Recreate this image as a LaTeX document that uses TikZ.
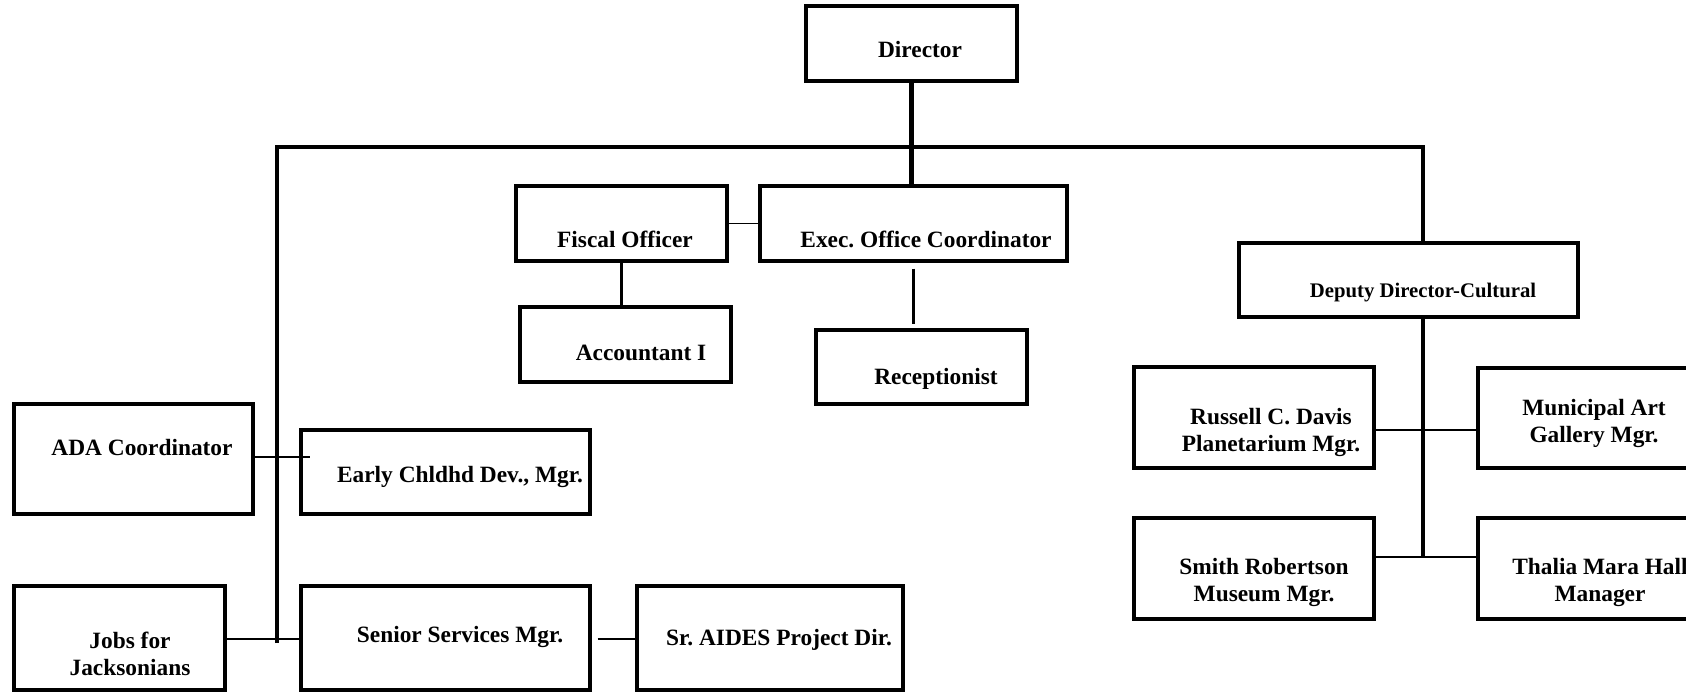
\documentclass[tikz,border=0pt]{standalone}
\usepackage{fontspec}
\setmainfont{Liberation Serif}
\usetikzlibrary{fit}

\begin{document}
\begin{tikzpicture}[x=0.02cm,y=-0.02cm,
	box/.style={shape=rectangle,draw,line width=1.8pt,inner sep=0pt},
	txt/.style={inner sep=0pt,align=center,font=\fontsize{13.3pt}{15pt}\selectfont\bfseries\frenchspacing},
	one/.style={text height=9pt,text depth=0pt},
	two/.style={text height=24pt,text depth=0pt},
	link/.style={line width=1.9pt},
	thin/.style={line width=1pt}]
	\useasboundingbox (0,0) rectangle (1686,691);

	\node (director) [box,fit={(806,6) (1017,81)}] {};
	\node (fiscal) [box,fit={(516,186) (727,261)}] {};
	\node (exec) [box,fit={(760,186) (1067,261)}] {};
	\node (accountant) [box,fit={(520,307) (731,382)}] {};
	\node (receptionist) [box,fit={(816,330) (1027,404)}] {};
	\node (deputy) [box,fit={(1239,243) (1578,317)}] {};
	\node (russell) [box,fit={(1134,367) (1374,468)}] {};
	\node (municipal) [box,fit={(1478,368) (1700,468)}] {};
	\node (smith) [box,fit={(1134,518) (1374,619)}] {};
	\node (thalia) [box,fit={(1478,518) (1700,619)}] {};
	\node (ada) [box,fit={(14,404) (253,514)}] {};
	\node (early) [box,fit={(301,430) (590,514)}] {};
	\node (jobs) [box,fit={(14,586) (225,690)}] {};
	\node (senior) [box,fit={(301,586) (590,690)}] {};
	\node (aides) [box,fit={(637,586) (903,690)}] {};

	\node (directortext) [txt,one] at (920,50) {Director};
	\node (fiscaltext) [txt,one] at (625,240) {Fiscal Officer};
	\node (exectext) [txt,one] at (926,240) {Exec. Office Coordinator};
	\node (accountanttext) [txt,one] at (641,353) {Accountant I};
	\node (receptionisttext) [txt,one] at (936,377) {Receptionist};
	\node (deputytext) [txt,one,font=\fontsize{11.8pt}{14pt}\selectfont\bfseries] at (1423,290) {Deputy Director-Cultural};
	\node (russelltext) [txt,two] at (1271,430) {Russell C. Davis\\Planetarium Mgr.};
	\node (municipaltext) [txt,two] at (1594,421) {Municipal Art\\Gallery Mgr.};
	\node (smithtext) [txt,two] at (1264,580) {Smith Robertson\\Museum Mgr.};
	\node (thaliatext) [txt,two] at (1600,580) {Thalia Mara Hall\\Manager};
	\node (adatext) [txt,one] at (142,448) {ADA Coordinator};
	\node (earlytext) [txt,one] at (460,475) {Early Chldhd Dev., Mgr.};
	\node (jobstext) [txt,two] at (130,654) {Jobs for\\Jacksonians};
	\node (seniortext) [txt,one] at (460,635) {Senior Services Mgr.};
	\node (aidestext) [txt,one] at (779,638) {Sr. AIDES Project Dir.};

	\coordinate (busleft) at (277,147);
	\coordinate (busright) at (1423,147);
	\coordinate (busbottom) at (277,643);
	\coordinate (deputyend) at (1423,557);
	\coordinate (artrow) at (1423,430);
	\coordinate (adarow) at (310,457);
	\coordinate (jobsrow) at (277,639);

	\draw[line width=3.2pt] (director.south) -- (director.south |- exec.north);
	\draw[line width=2pt] (busbottom) -- (busleft) -- (busright) -- (busright |- deputy.north);
	\draw[thin] (fiscal.east) -- (exec.west);
	\draw[link] (fiscal.south) -- (fiscal.south |- accountant.north);
	\draw[link] ([yshift=-0.12cm]exec.south) -- ([yshift=0.08cm]exec.south |- receptionist.north);
	\draw[link] (busright |- deputy.south) -- (deputyend);
	\draw[thin] (artrow -| russell.east) -- (artrow -| municipal.west);
	\draw[thin] (deputyend -| smith.east) -- (deputyend -| thalia.west);
	\draw[thin] (adarow -| ada.east) -- (adarow);
	\draw[thin] (jobsrow -| jobs.east) -- (jobsrow -| senior.west);
	\draw[line width=1.2pt] ([xshift=0.12cm]jobsrow -| senior.east) -- (jobsrow -| aides.west);
\end{tikzpicture}
\end{document}
